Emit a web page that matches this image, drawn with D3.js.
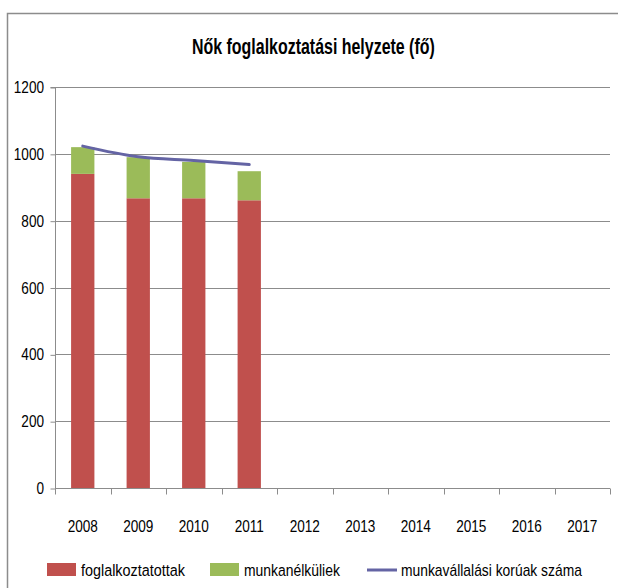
<!DOCTYPE html>
<html>
<head>
<meta charset="utf-8">
<script src="https://cdn.jsdelivr.net/npm/d3@7"></script>
<style>
  body { margin: 0; background: #fff; }
  svg text { font-family: "Liberation Sans", Arial, sans-serif; fill: #000; }
</style>
</head>
<body>
<svg id="chart"></svg>
<script>
// Data
const years = ["2008", "2009", "2010", "2011", "2012", "2013", "2014", "2015", "2016", "2017"];
const employed = [940, 867, 867, 861];     // foglalkoztatottak
const unemployed = [80, 123, 109, 87];     // munkanélküliek
const workingAge = [1023, 991, 980, 968];  // munkavállalási korúak száma
const yTicks = [0, 200, 400, 600, 800, 1000, 1200];

const width = 618;
const height = 588;
const margin = { top: 87, right: 8, bottom: 100, left: 55 };
const squeeze = 0.8; // narrow-looking text

const svg = d3.select("#chart")
    .attr("width", width)
    .attr("height", height);

// squeeze a text horizontally so it fills a given width
function fitText(sel, x, y, w) {
    const natural = sel.node().getComputedTextLength();
    sel.attr("transform", `translate(${x}, ${y}) scale(${w / natural}, 1)`);
}

// outer chart frame (only left and top edges visible)
svg.append("path")
    .attr("d", "M7.5,588 V13.5 H618")
    .attr("fill", "none")
    .attr("stroke", "#8c8c8c")
    .attr("stroke-width", 1.5);

// Title
const title = svg.append("text")
    .style("font-size", "22px")
    .style("font-weight", "bold")
    .text("Nők foglalkoztatási helyzete (fő)");
fitText(title, 192, 54, 243);

// Scales
const xScale = d3.scaleBand()
    .domain(years)
    .range([margin.left, width - margin.right]);

const yScale = d3.scaleLinear()
    .domain([0, 1200])
    .range([height - margin.bottom, margin.top]);

// Gridlines
svg.append("g")
    .selectAll("line")
    .data(yTicks.filter(d => d > 0))
    .enter().append("line")
    .attr("x1", margin.left)
    .attr("x2", width - margin.right)
    .attr("y1", d => Math.round(yScale(d)) + 0.5)
    .attr("y2", d => Math.round(yScale(d)) + 0.5)
    .attr("stroke", "#8c8c8c")
    .attr("stroke-width", 1);

// Y axis
const yAxis = svg.append("g")
    .attr("transform", `translate(${margin.left + 0.5}, 0.5)`)
    .call(d3.axisLeft(yScale).tickValues(yTicks).tickSize(5).tickFormat(""));
yAxis.selectAll("line, path").attr("stroke", "#8c8c8c");
yAxis.select(".domain").attr("d", `M-5,${yScale(1200)}H0V${yScale(0)}`);

svg.append("g")
    .selectAll("text")
    .data(yTicks)
    .enter().append("text")
    .attr("transform", d => `translate(44, ${yScale(d) + 6}) scale(${squeeze}, 1)`)
    .attr("text-anchor", "end")
    .style("font-size", "17px")
    .text(d => d);

// X axis with ticks at category boundaries
const xAxis = svg.append("g")
    .attr("transform", `translate(0, ${height - margin.bottom + 0.5})`);
xAxis.append("line")
    .attr("x1", margin.left)
    .attr("x2", width - margin.right)
    .attr("stroke", "#8c8c8c");
xAxis.selectAll(".tick")
    .data(years.map(d => xScale(d)).concat([xScale(years[years.length - 1]) + xScale.bandwidth()]))
    .enter().append("line")
    .attr("x1", d => Math.round(d) + 0.5)
    .attr("x2", d => Math.round(d) + 0.5)
    .attr("y1", 0)
    .attr("y2", 6)
    .attr("stroke", "#8c8c8c");
xAxis.selectAll("text")
    .data(years)
    .enter().append("text")
    .attr("transform", d => `translate(${xScale(d) + xScale.bandwidth() / 2}, 43) scale(${squeeze}, 1)`)
    .attr("text-anchor", "middle")
    .style("font-size", "17px")
    .text(d => d);

// Stacked bars
const barW = xScale.bandwidth() * 0.42;
const bars = svg.append("g");
employed.forEach(function(v, i) {
    const cx = xScale(years[i]) + xScale.bandwidth() / 2;
    bars.append("rect")
        .attr("x", cx - barW / 2)
        .attr("width", barW)
        .attr("y", yScale(v))
        .attr("height", yScale(0) - yScale(v))
        .attr("fill", "#c0504d");
    bars.append("rect")
        .attr("x", cx - barW / 2)
        .attr("width", barW)
        .attr("y", yScale(v + unemployed[i]))
        .attr("height", yScale(v) - yScale(v + unemployed[i]))
        .attr("fill", "#9bbb59");
});

// Line
const line = d3.line()
    .x((d, i) => xScale(years[i]) + xScale.bandwidth() / 2)
    .y(d => yScale(d))
    .curve(d3.curveMonotoneX);

svg.append("path")
    .datum(workingAge)
    .attr("fill", "none")
    .attr("stroke", "#6464a4")
    .attr("stroke-width", 3)
    .attr("stroke-linecap", "round")
    .attr("d", line);

// Legend
const legendY = 570;
const legend = svg.append("g");
const items = [
    { label: "foglalkoztatottak", type: "rect", color: "#c0504d", x: 47, w: 104 },
    { label: "munkanélküliek", type: "rect", color: "#9bbb59", x: 210, w: 96 },
    { label: "munkavállalási korúak száma", type: "line", color: "#6464a4", x: 367, w: 181 }
];
items.forEach(function(it) {
    if (it.type === "rect") {
        legend.append("rect")
            .attr("x", it.x)
            .attr("y", legendY - 7)
            .attr("width", 29)
            .attr("height", 13)
            .attr("fill", it.color);
    } else {
        legend.append("line")
            .attr("x1", it.x)
            .attr("x2", it.x + 30)
            .attr("y1", legendY)
            .attr("y2", legendY)
            .attr("stroke", it.color)
            .attr("stroke-width", 3);
    }
    const t = legend.append("text")
        .style("font-size", "17px")
        .text(it.label);
    fitText(t, it.x + 34, legendY + 6, it.w);
});
</script>
</body>
</html>
